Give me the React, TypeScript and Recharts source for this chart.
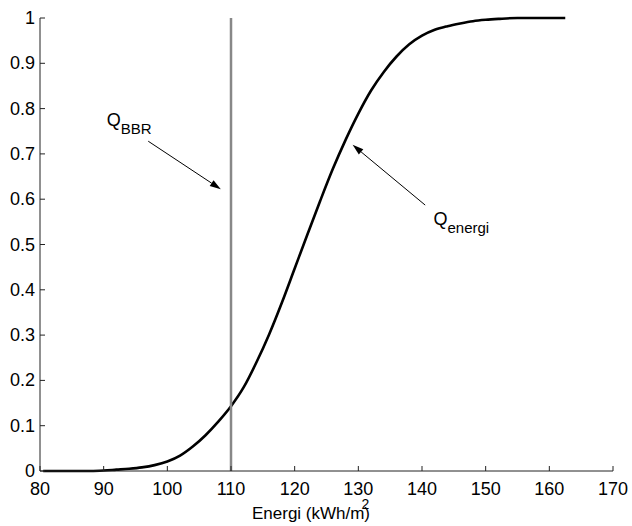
// ── EnergiCdf ──
// Kumulativ fördelning av energiprestanda, med BBR-krav som vertikal linje

import { LineChart, Line, XAxis, YAxis, ReferenceLine, ReferenceDot } from 'recharts';

const energy = [80.5, 84, 88, 90, 92, 94, 96, 98, 100, 102, 104, 106, 108, 110, 112, 114, 116, 118, 120, 122, 124, 126, 128, 130, 132, 134, 136, 138, 140, 142, 144, 146, 148, 150, 152, 155, 158, 162.5];
const cumulative = [0, 0, 0, 0.001, 0.003, 0.005, 0.008, 0.013, 0.021, 0.034, 0.054, 0.079, 0.109, 0.143, 0.185, 0.24, 0.302, 0.372, 0.447, 0.522, 0.596, 0.667, 0.731, 0.789, 0.84, 0.881, 0.915, 0.942, 0.961, 0.974, 0.982, 0.988, 0.993, 0.996, 0.998, 1, 1, 1];

const xTicks = [80, 90, 100, 110, 120, 130, 140, 150, 160, 170];
const yTicks = [0, 0.1, 0.2, 0.3, 0.4, 0.5, 0.6, 0.7, 0.8, 0.9, 1];
const yTickLabels = ['0', '0.1', '0.2', '0.3', '0.4', '0.5', '0.6', '0.7', '0.8', '0.9', '1'];

const bbrLimit = 110;

// annotation anchors in data units: text anchor, arrow tail -> tip
const bbrText = { x: 90.5, y: 0.762 };
const bbrArrow = [{ x: 97, y: 0.728 }, { x: 108.4, y: 0.622 }];
const energiText = { x: 141.8, y: 0.543 };
const energiArrow = [{ x: 140.5, y: 0.587 }, { x: 129.1, y: 0.72 }];

const data = energy.map((e, i) => ({ e, p: cumulative[i] }));

const FONT = '"Liberation Sans", Arial, Helvetica, sans-serif';

function XTick(props: any) {
  const { x, y, payload } = props;
  return (
    <g>
      <line x1={x} y1={y} x2={x} y2={y - 5} stroke="#222" strokeWidth={1} />
      <text x={x} y={y + 24} textAnchor="middle" fontFamily={FONT} fontSize={18} fill="#000">
        {payload.value}
      </text>
    </g>
  );
}

function YTick(props: any) {
  const { x, y, payload, index } = props;
  return (
    <g>
      <line x1={x} y1={y} x2={x + 5} y2={y} stroke="#222" strokeWidth={1} />
      <text x={x - 5} y={y + 6} textAnchor="end" fontFamily={FONT} fontSize={18} fill="#000">
        {yTickLabels[index] ?? payload.value}
      </text>
    </g>
  );
}

function Arrow(props: any) {
  const { x1, y1, x2, y2 } = props;
  const ang = Math.atan2(y2 - y1, x2 - x1);
  const len = 11;
  const hw = 3.5;
  const bx = x2 - len * Math.cos(ang);
  const by = y2 - len * Math.sin(ang);
  const px = -Math.sin(ang) * hw;
  const py = Math.cos(ang) * hw;
  return (
    <g>
      <line x1={x1} y1={y1} x2={bx} y2={by} stroke="#000" strokeWidth={1} />
      <polygon points={`${x2},${y2} ${bx + px},${by + py} ${bx - px},${by - py}`} fill="#000" />
    </g>
  );
}

function subLabel(sub: string) {
  return (props: any) => (
    <text x={props.cx} y={props.cy} fontFamily={FONT} fontSize={18} fill="#000">
      Q
      <tspan dy={8} fontSize={15}>{sub}</tspan>
    </text>
  );
}

function AxisTitle(props: any) {
  const { viewBox } = props;
  return (
    <text x={viewBox.x + 212} y={viewBox.y + 48} fontFamily={FONT} fontSize={17} fill="#000">
      Energi (kWh/m
      <tspan dx={-3} dy={-10} fontSize={14}>2</tspan>
      <tspan dx={-5} dy={10}>)</tspan>
    </text>
  );
}

export default function App() {
  return (
    <div style={{ position: 'absolute', left: 0, top: 0, width: 632, height: 526, background: '#fff' }}>
      <LineChart width={632} height={526} data={data} margin={{ top: 18, right: 19, bottom: 0, left: 0 }}>
        <XAxis
          type="number"
          dataKey="e"
          domain={[80, 170]}
          ticks={xTicks}
          interval={0}
          height={55}
          tickSize={0}
          tickMargin={0}
          tickLine={false}
          axisLine={{ stroke: '#222', strokeWidth: 1 }}
          tick={<XTick />}
          label={<AxisTitle />}
        />
        <YAxis
          type="number"
          domain={[0, 1]}
          ticks={yTicks}
          interval={0}
          width={40}
          tickSize={0}
          tickMargin={0}
          tickLine={false}
          axisLine={{ stroke: '#222', strokeWidth: 1 }}
          tick={<YTick />}
        />
        <Line
          dataKey="p"
          type="monotone"
          stroke="#000"
          strokeWidth={2.6}
          dot={false}
          isAnimationActive={false}
        />
        <ReferenceLine x={bbrLimit} stroke="#888" strokeWidth={2.5} />
        <ReferenceLine segment={bbrArrow} shape={<Arrow />} />
        <ReferenceLine segment={energiArrow} shape={<Arrow />} />
        <ReferenceDot x={bbrText.x} y={bbrText.y} r={0} shape={subLabel('BBR')} />
        <ReferenceDot x={energiText.x} y={energiText.y} r={0} shape={subLabel('energi')} />
      </LineChart>
    </div>
  );
}
